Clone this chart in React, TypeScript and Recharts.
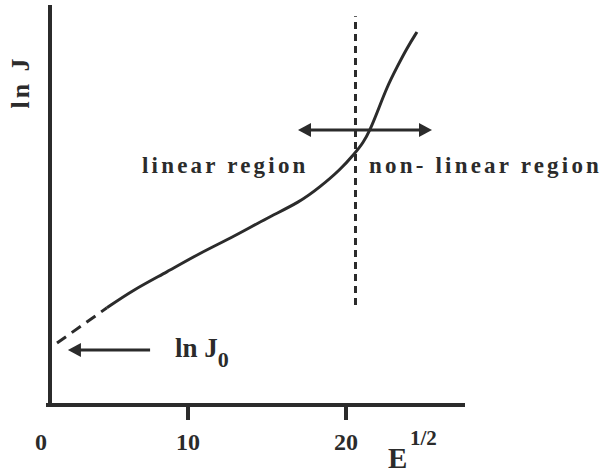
import React from 'react';
import { LineChart, Line, XAxis, YAxis, ReferenceLine, Customized } from 'recharts';

// E^(1/2) vs ln J, measured curve
const sqrtE = [4.87, 6.52, 8.67, 10.76, 12.85, 15.0, 17.09, 18.35, 19.62, 20.57, 21.08, 21.52, 21.96, 22.59, 23.23, 23.86, 24.49];
const lnJ = [2.43, 2.875, 3.325, 3.8, 4.2, 4.675, 5.075, 5.45, 5.875, 6.3, 6.55, 6.875, 7.3, 7.95, 8.45, 8.925, 9.325];

// straight-line extrapolation back towards the intercept ln J0
const extrapE = [1.71, 4.87];
const extrapLnJ = [1.55, 2.43];

const xDomain = [1.266, 27.53];
const yDomain = [0, 10];
const xTicks = [10, 20];
const boundaryE = 20.6;
const boundaryLnJ = [2.5, 9.72];
const regionArrowLnJ = 6.875;
const regionArrowE = [16.96, 25.44];
const j0ArrowLnJ = 1.375;
const j0ArrowE = [7.6, 2.4];

const curve = sqrtE.map((e, i) => ({ e, lnJ: lnJ[i] }));
const extrap = extrapE.map((e, i) => ({ e, lnJ: extrapLnJ[i] }));

const INK = '#2b2b2b';
const FONT = '"Liberation Serif", "Times New Roman", serif';

function head(x: number, y: number, dir: number) {
  // filled triangle pointing left (dir=-1) or right (dir=1)
  const len = 13;
  const half = 7;
  return <polygon points={`${x},${y} ${x - dir * len},${y - half} ${x - dir * len},${y + half}`} fill={INK} />;
}

const DoubleArrow = (p: any) => {
  const { x1, y1, x2 } = p;
  return (
    <g>
      <line x1={x1 + 10} y1={y1} x2={x2 - 10} y2={y1} stroke={INK} strokeWidth={3} />
      {head(x1, y1, -1)}
      {head(x2, y1, 1)}
    </g>
  );
};

const LeftArrow = (p: any) => {
  const { x1, y1, x2 } = p;
  const left = Math.min(x1, x2);
  const right = Math.max(x1, x2);
  return (
    <g>
      <line x1={left + 10} y1={y1} x2={right} y2={y1} stroke={INK} strokeWidth={3} />
      {head(left, y1, -1)}
    </g>
  );
};

// heavy axis line drawn by hand so the width sticks
const AxisStroke = (p: any) => {
  const { x1, y1, x2, y2 } = p;
  const horiz = y1 === y2;
  return (
    <line
      x1={horiz ? Math.min(x1, x2) - 4 : x1}
      y1={y1}
      x2={x2}
      y2={horiz ? y2 : Math.min(y1, y2)}
      stroke={INK}
      strokeWidth={4}
    />
  );
};

const XTick = (p: any) => {
  const { x, y, payload } = p;
  return (
    <g>
      <line x1={x} y1={y} x2={x} y2={y + 15} stroke={INK} strokeWidth={4} />
      <text x={x} y={y + 45} textAnchor="middle" fontFamily={FONT} fontWeight="bold" fontSize={24} fill={INK}>
        {payload.value}
      </text>
    </g>
  );
};

const Annotations = () => (
  <g fontFamily={FONT} fontWeight="bold" fill={INK}>
    <text x={23} y={82} fontSize={26} letterSpacing={3} textAnchor="middle" dominantBaseline="middle" transform="rotate(-90 23 82)">
      ln J
    </text>
    <text x={142} y={173} fontSize={23} letterSpacing={3.2}>linear region</text>
    <text x={369} y={173} fontSize={23} letterSpacing={3.2}>non- linear region</text>
    <text x={175} y={357} fontSize={27}>
      ln J<tspan fontSize={22} dy={10}>0</tspan>
    </text>
    <text x={41} y={450} fontSize={24} textAnchor="middle">0</text>
    <text x={388} y={468} fontSize={29}>E</text>
    <text x={410} y={445} fontSize={21}>1/2</text>
  </g>
);

export default function App() {
  return (
    <div style={{ position: 'absolute', left: 0, top: 0, background: '#fff' }}>
      <LineChart width={601} height={474} margin={{ top: 5, right: 136, bottom: 9, left: 0 }}>
        <XAxis
          type="number"
          dataKey="e"
          domain={xDomain}
          ticks={xTicks}
          height={60}
          allowDataOverflow
          axisLine={false}
          tickLine={false}
          tickSize={0}
          tickMargin={0}
          tick={XTick}
        />
        <YAxis
          type="number"
          domain={yDomain}
          width={50}
          tick={false}
          tickLine={false}
          axisLine={false}
          allowDataOverflow
        />
        <ReferenceLine
          segment={[{ x: xDomain[0], y: yDomain[0] }, { x: xDomain[1], y: yDomain[0] }]}
          shape={AxisStroke}
        />
        <ReferenceLine
          segment={[{ x: xDomain[0], y: yDomain[0] }, { x: xDomain[0], y: yDomain[1] }]}
          shape={AxisStroke}
        />
        <ReferenceLine
          segment={[{ x: boundaryE, y: boundaryLnJ[0] }, { x: boundaryE, y: boundaryLnJ[1] }]}
          stroke={INK}
          strokeWidth={3}
          strokeDasharray="7 5"
        />
        <ReferenceLine
          segment={[{ x: regionArrowE[0], y: regionArrowLnJ }, { x: regionArrowE[1], y: regionArrowLnJ }]}
          shape={DoubleArrow}
        />
        <ReferenceLine
          segment={[{ x: j0ArrowE[1], y: j0ArrowLnJ }, { x: j0ArrowE[0], y: j0ArrowLnJ }]}
          shape={LeftArrow}
        />
        <Line
          data={extrap}
          dataKey="lnJ"
          type="linear"
          stroke={INK}
          strokeWidth={3}
          strokeDasharray="11 7"
          dot={false}
          isAnimationActive={false}
        />
        <Line
          data={curve}
          dataKey="lnJ"
          type="basis"
          stroke={INK}
          strokeWidth={3}
          dot={false}
          isAnimationActive={false}
        />
        <Customized component={Annotations} />
      </LineChart>
    </div>
  );
}
